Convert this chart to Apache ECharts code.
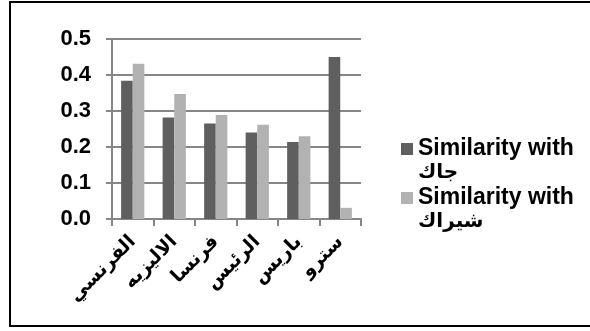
<!DOCTYPE html>
<html><head><meta charset="utf-8">
<script src="https://cdn.jsdelivr.net/npm/echarts@6/dist/echarts.min.js"></script>
<style>html,body{margin:0;padding:0;background:#fff}#c{width:590px;height:331px}</style>
</head><body><div id="c"></div>
<script>
const categories = ["الفرنسي", "الاليزيه", "فرنسا", "الرئيس", "باريس", "سترو"];
const seriesNames = ["Similarity with\nجاك", "Similarity with\nشيراك"];
const jackValues = [0.384, 0.282, 0.265, 0.240, 0.214, 0.450];
const chiracValues = [0.431, 0.347, 0.289, 0.262, 0.230, 0.031];
const yTicks = [0, 0.1, 0.2, 0.3, 0.4, 0.5];

const chart = echarts.init(document.getElementById('c'), null, {renderer: 'canvas'});
const gridColor = '#868686';
chart.setOption({
  animation: false,
  backgroundColor: '#fff',
  graphic: [{type: 'rect', shape: {x: 10, y: 2, width: 590, height: 324}, style: {fill: 'none', stroke: '#000', lineWidth: 2}, z: 100}],
  grid: {left: 112, top: 39, width: 249, height: 180, containLabel: false},
  legend: {
    orient: 'vertical', left: 396, top: 108, itemWidth: 12, itemHeight: 12, itemGap: -23,
    icon: 'rect',
    formatter: name => { const p = name.split('\n'); return '\n{a|' + p[0] + '}\n{b|' + p[1] + '}'; },
    textStyle: {fontFamily: 'Liberation Sans, DejaVu Sans', fontWeight: 'bold', fontSize: 23, color: '#000', lineHeight: 24,
      rich: {
        a: {fontFamily: 'Liberation Sans', fontWeight: 'bold', fontSize: 23, lineHeight: 24, color: '#000'},
        b: {fontFamily: 'DejaVu Sans', fontWeight: 'bold', fontSize: 20, lineHeight: 24, color: '#000'}
      }},
    data: seriesNames
  },
  xAxis: {
    type: 'category', data: categories,
    axisLine: {lineStyle: {color: gridColor, width: 2}},
    axisTick: {show: true, length: 7, lineStyle: {color: gridColor, width: 2}},
    axisLabel: {rotate: 45, margin: 20, interval: 0, fontFamily: 'DejaVu Sans', fontWeight: 'bold', fontSize: 19, color: '#000'}
  },
  yAxis: {
    type: 'value', min: 0, max: 0.5, interval: 0.1,
    axisLine: {show: true, lineStyle: {color: gridColor, width: 2}},
    axisTick: {show: true, length: 6, lineStyle: {color: gridColor, width: 2}},
    splitLine: {lineStyle: {color: gridColor, width: 2}},
    axisLabel: {margin: 21, fontFamily: 'Liberation Sans', fontWeight: 'bold', fontSize: 22, color: '#000',
      formatter: v => v.toFixed(1)}
  },
  series: [
    {name: seriesNames[0], type: 'bar', data: jackValues, barGap: '0%', barCategoryGap: '44%', itemStyle: {color: '#5f5f5f'}},
    {name: seriesNames[1], type: 'bar', data: chiracValues, itemStyle: {color: '#b2b2b2'}}
  ]
});
</script></body></html>
